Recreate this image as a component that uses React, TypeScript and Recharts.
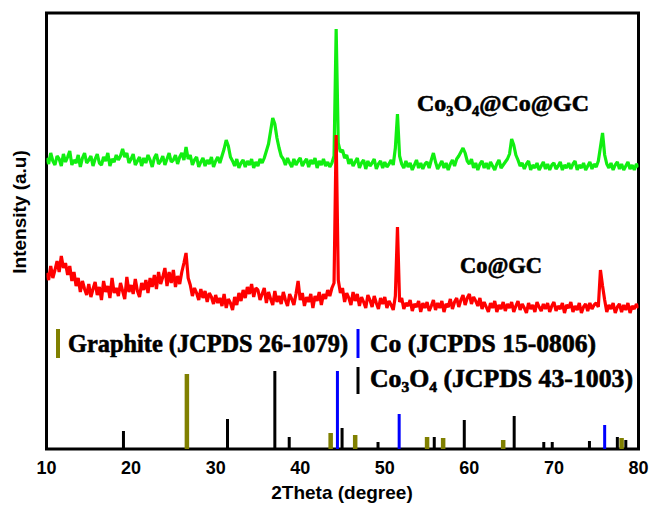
import React from 'react';
import { LineChart, Line, XAxis, YAxis, ReferenceArea } from 'recharts';

// 2θ sampling grid (0.25° step, 10°–80°)
const twoTheta: number[] = Array.from({ length: 281 }, (_, i) => 10 + i * 0.25);

// Co3O4@Co@GC pattern (offset intensity, a.u.)
const co3o4CoGC: number[] = [
  291, 285, 296, 288, 284, 293, 290, 283, 295, 287, 292, 298, 284, 289, 286, 294, 282, 291, 296, 286,
  289, 293, 283, 290, 295, 286, 284, 292, 288, 296, 283, 290, 287, 294, 289, 293, 300, 292, 296, 286,
  290, 295, 284, 288, 292, 283, 291, 286, 294, 289, 282, 291, 295, 285, 288, 293, 284, 290, 296, 287,
  289, 294, 285, 292, 296, 289, 302, 290, 294, 284, 289, 292, 282, 287, 291, 283, 289, 285, 292, 282,
  288, 292, 286, 293, 300, 309, 303, 292, 288, 283, 290, 281, 286, 289, 282, 288, 284, 290, 281, 287,
  283, 290, 286, 291, 298, 305, 318, 331, 325, 311, 301, 293, 290, 284, 291, 286, 282, 290, 284, 288,
  291, 283, 287, 290, 282, 289, 285, 291, 281, 288, 284, 290, 283, 287, 282, 286, 293, 420, 306, 297,
  299, 291, 294, 285, 290, 283, 287, 291, 281, 286, 289, 280, 288, 283, 286, 290, 280, 285, 288, 281,
  287, 282, 285, 289, 284, 301, 335, 293, 285, 281, 288, 282, 286, 279, 284, 289, 281, 286, 280, 285,
  287, 281, 289, 296, 287, 280, 284, 288, 281, 286, 279, 285, 289, 283, 290, 293, 297, 301, 296, 288,
  285, 290, 281, 286, 279, 285, 288, 281, 286, 280, 287, 283, 279, 285, 289, 281, 284, 287, 290, 295,
  310, 304, 294, 289, 283, 286, 280, 285, 288, 279, 284, 281, 286, 279, 283, 287, 280, 285, 279, 284,
  286, 280, 283, 287, 279, 284, 281, 286, 280, 285, 288, 279, 284, 281, 286, 279, 283, 287, 280, 285,
  282, 288, 302, 316, 294, 285, 281, 286, 279, 284, 287, 280, 285, 279, 283, 287, 280, 284, 279, 285,
  282,
];

// Co@GC pattern (offset intensity, a.u.)
const coGC: number[] = [
  176, 169, 183, 171, 179, 188, 177, 193, 181, 186, 174, 183, 168, 177, 163, 171, 157, 168, 160, 154,
  165, 152, 160, 167, 154, 162, 149, 168, 157, 163, 151, 171, 156, 161, 153, 166, 158, 150, 172, 157,
  164, 155, 170, 158, 152, 166, 159, 169, 156, 171, 162, 174, 160, 177, 165, 172, 181, 163, 177, 166,
  179, 162, 173, 165, 177, 186, 196, 171, 164, 153, 161, 156, 149, 160, 151, 158, 147, 156, 152, 145,
  154, 146, 151, 143, 155, 141, 150, 146, 139, 152, 144, 156, 148, 159, 151, 162, 155, 165, 152, 161,
  159, 149, 155, 161, 146, 157, 150, 144, 158, 147, 153, 145, 157, 149, 143, 155, 150, 144, 155, 168,
  149, 156, 143, 152, 147, 155, 141, 153, 148, 157, 144, 155, 150, 159, 153, 161, 166, 314, 169, 156,
  161, 147, 156, 151, 144, 157, 148, 155, 143, 152, 147, 141, 154, 149, 142, 153, 146, 140, 151, 145,
  152, 141, 148, 144, 139, 153, 222, 147, 151, 140, 146, 143, 149, 138, 145, 142, 148, 137, 146, 141,
  147, 138, 143, 149, 139, 146, 141, 148, 137, 145, 142, 150, 140, 147, 151, 142, 149, 154, 144, 151,
  155, 145, 152, 148, 143, 151, 140, 147, 142, 137, 146, 141, 148, 137, 144, 140, 147, 138, 145, 141,
  147, 137, 143, 148, 139, 145, 141, 136, 146, 140, 144, 137, 147, 142, 138, 145, 140, 146, 137, 143,
  147, 138, 143, 140, 146, 136, 144, 141, 147, 137, 143, 139, 146, 136, 142, 145, 138, 146, 140, 144,
  146, 142, 179, 163, 149, 137, 144, 140, 146, 136, 142, 145, 137, 144, 139, 146, 136, 143, 140, 145,
  141,
];

// Reference patterns (stick positions and relative intensities)
const graphiteTheta = [26.6, 43.6, 46.5, 55.0, 56.9, 64.0, 78.0];
const graphiteRel = [75, 16, 14, 12, 11, 9, 11];
const coTheta = [44.4, 51.7, 76.0];
const coRel = [78, 35, 24];
const co3o4Theta = [19.1, 31.4, 37.0, 38.7, 44.95, 49.2, 55.85, 59.4, 65.3, 68.8, 69.8, 74.2, 77.5, 78.5];
const co3o4Rel = [18, 30, 78, 12, 21, 7, 12, 29, 33, 7, 7, 8, 12, 9];

const xTicks = [10, 20, 30, 40, 50, 60, 70, 80];

const greenData = twoTheta.map((x, i) => ({ x, y: co3o4CoGC[i] }));
const redData = twoTheta.map((x, i) => ({ x, y: coGC[i] }));

function sticks(thetas: number[], rel: number[]) {
  const out: { x: number; y: number | null }[] = [];
  thetas.forEach((t, i) => {
    out.push({ x: t, y: 0 }, { x: t, y: rel[i] }, { x: t, y: null });
  });
  return out;
}

const graphiteData = sticks(graphiteTheta, graphiteRel);
const coData = sticks(coTheta, coRel);
const co3o4Data = sticks(co3o4Theta, co3o4Rel);

const OLIVE = '#808000';
const serif: React.CSSProperties = {
  fontFamily: '"Liberation Serif", "DejaVu Serif", serif',
  fontWeight: 700,
  fill: '#000',
  stroke: '#000',
  strokeWidth: 0.6,
};
const sans = '"Liberation Sans", Arial, sans-serif';

export default function App() {
  return (
    <div style={{ position: 'absolute', left: 0, top: 0, width: 649, height: 505, background: '#fff' }}>
      <LineChart
        width={649}
        height={505}
        margin={{ top: 13, right: 10.5, bottom: 0, left: 46.5 }}
      >
        <XAxis
          type="number"
          dataKey="x"
          domain={[10, 80]}
          ticks={xTicks}
          allowDataOverflow
          axisLine={false}
          tickLine={false}
          tickSize={6}
          tickMargin={6}
          height={56}
          tick={{ fontFamily: sans, fontWeight: 700, fontSize: 18, fill: '#000' }}
        />
        <YAxis type="number" domain={[0, 436]} hide allowDataOverflow />
        <Line data={greenData} dataKey="y" type="linear" stroke="#11ee11" strokeWidth={3.2} strokeLinejoin="bevel" dot={false} isAnimationActive={false} />
        <Line data={redData} dataKey="y" type="linear" stroke="#ff0000" strokeWidth={3.2} strokeLinejoin="bevel" dot={false} isAnimationActive={false} />
        <Line data={graphiteData} dataKey="y" type="linear" stroke={OLIVE} strokeWidth={4.5} strokeLinecap="butt" dot={false} connectNulls={false} isAnimationActive={false} />
        <Line data={co3o4Data} dataKey="y" type="linear" stroke="#000" strokeWidth={3} strokeLinecap="butt" dot={false} connectNulls={false} isAnimationActive={false} />
        <Line data={coData} dataKey="y" type="linear" stroke="#0000ff" strokeWidth={3} strokeLinecap="butt" dot={false} connectNulls={false} isAnimationActive={false} />
        <ReferenceArea x1={10} x2={80} y1={0} y2={436} fill="none" fillOpacity={0} stroke="#000" strokeWidth={3} ifOverflow="visible" />
      </LineChart>
      <svg
        width={649}
        height={505}
        style={{ position: 'absolute', left: 0, top: 0, pointerEvents: 'none' }}
      >
        <text
          transform="translate(26,212) rotate(-90)"
          textAnchor="middle"
          style={{ fontFamily: sans, fontWeight: 700, fontSize: 19, fill: '#000' }}
        >
          Intensity (a.u)
        </text>
        <text
          x={342}
          y={499}
          textAnchor="middle"
          style={{ fontFamily: sans, fontWeight: 700, fontSize: 19, fill: '#000' }}
        >
          2Theta (degree)
        </text>

        <text x={417} y={111} textLength={172} lengthAdjust="spacingAndGlyphs" style={{ ...serif, fontSize: 24 }}>
          Co₃O₄@Co@GC
        </text>
        <text x={460} y={273} textLength={82} lengthAdjust="spacingAndGlyphs" style={{ ...serif, fontSize: 24 }}>
          Co@GC
        </text>

        <line x1={58} x2={58} y1={329} y2={358} stroke={OLIVE} strokeWidth={4} />
        <text x={68} y={352} textLength={280} lengthAdjust="spacingAndGlyphs" style={{ ...serif, fontSize: 25 }}>
          Graphite (JCPDS 26-1079)
        </text>
        <line x1={358} x2={358} y1={329} y2={358} stroke="#0000ff" strokeWidth={3} />
        <text x={370} y={352} textLength={226} lengthAdjust="spacingAndGlyphs" style={{ ...serif, fontSize: 25 }}>
          Co (JCPDS 15-0806)
        </text>
        <line x1={358} x2={358} y1={367} y2={394} stroke="#000" strokeWidth={3} />
        <text x={370} y={387} textLength={263} lengthAdjust="spacingAndGlyphs" style={{ ...serif, fontSize: 25 }}>
          Co₃O₄ (JCPDS 43-1003)
        </text>
      </svg>
    </div>
  );
}
